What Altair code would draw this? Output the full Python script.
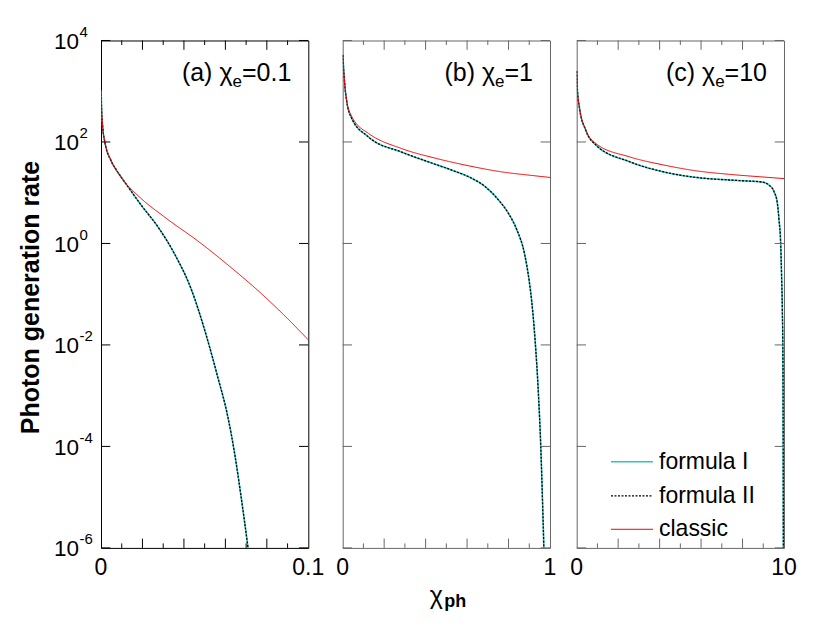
import altair as alt
import pandas as pd

FONT = "Liberation Sans"

series_names = ["formula I", "formula II", "classic"]
series_colors = ["#2EC4C4", "#000000", "#EE0000"]

panel_heads = ["(a) χ", "(b) χ", "(c) χ"]
panel_sub = "e"
panel_tails = ["=0.1", "=1", "=10"]
x_max = [0.1, 1, 10]
x_label_vals = [[0, 0.1], [0, 1], [0, 10]]
x_label_text = [["0", "0.1"], ["0", "1"], ["0", "10"]]
x_major = [[0.02, 0.04, 0.06, 0.08], [0.2, 0.4, 0.6, 0.8], [2, 4, 6, 8]]
x_minor = [[0.01, 0.03, 0.05, 0.07, 0.09], [0.1, 0.3, 0.5, 0.7, 0.9], [1, 3, 5, 7, 9]]

y_tick_vals = [1e4, 1e2, 1e0, 1e-2, 1e-4, 1e-6]
y_tick_base = ["10", "10", "10", "10", "10", "10"]
y_tick_exp = ["4", "2", "0", "-2", "-4", "-6"]

y_title = "Photon generation rate"
x_title_main = "χ"
x_title_sub = "ph"

# ---- panel (a): chi_e = 0.1 ----
a_classic_x = [0.00005, 0.0003, 0.0008, 0.0019, 0.0048, 0.0097, 0.0190, 0.0300, 0.0483, 0.0620,
               0.0757, 0.0880, 0.100]
a_classic_y = [1.05e3, 4.3e2, 2.0e2, 1.0e2, 4.4e1, 2.0e1, 7.94, 3.47, 1.0, 3.55e-1,
               1.18e-1, 3.98e-2, 1.26e-2]
a_formula_x = [0.00005, 0.0003, 0.0008, 0.0019, 0.0048, 0.0072, 0.0097, 0.0130, 0.0193, 0.0274, 0.0354,
               0.0435, 0.0507, 0.0560, 0.0612, 0.0645, 0.0676, 0.0709, 0.0725]
a_formula_y = [1.05e3, 4.3e2, 2.0e2, 9.8e1, 4.3e1, 2.9e1, 2.04e1, 1.32e1, 5.75, 2.14, 6.3e-1,
               1.26e-1, 1.58e-2, 2.6e-3, 3.8e-4, 7.1e-5, 1.0e-5, 1.0e-6, 2.8e-7]

# ---- panel (b): chi_e = 1 ----
b_classic_x = [0.001, 0.003, 0.011, 0.019, 0.043, 0.059, 0.124, 0.285, 0.446, 0.607, 0.768, 0.912, 1.0]
b_classic_y = [5.2e3, 3.5e3, 1.23e3, 6.6e2, 3.2e2, 2.5e2, 1.48e2, 7.4e1, 4.8e1, 3.4e1, 2.57e1, 2.19e1, 2.0e1]
b_formula_x = [0.001, 0.003, 0.011, 0.019, 0.043, 0.124, 0.285, 0.429, 0.526, 0.622, 0.686, 0.751,
               0.800, 0.840, 0.878, 0.900, 0.912, 0.928, 0.944, 0.955, 0.963, 0.970, 0.974]
b_formula_y = [5.2e3, 3.5e3, 1.2e3, 6.5e2, 2.95e2, 1.26e2, 6.3e1, 3.85e1, 2.79e1, 1.93e1, 1.33e1, 7.24,
               3.89, 1.86, 6.03e-1, 1.78e-1, 7.08e-2, 1.26e-2, 1.12e-3, 1.12e-4, 1.12e-5, 1.12e-6, 2.5e-7]

# ---- panel (c): chi_e = 10 ----
c_classic_x = [0.005, 0.034, 0.13, 0.45, 0.93, 2.54, 4.15, 5.77, 7.38, 8.99, 10.0]
c_classic_y = [2.5e3, 1.05e3, 4.9e2, 1.7e2, 9.3e1, 5.1e1, 3.55e1, 2.7e1, 2.3e1, 2.04e1, 1.9e1]
c_formula_x = [0.005, 0.034, 0.13, 0.45, 0.93, 2.54, 4.15, 5.77, 7.38, 8.0, 8.95, 9.28, 9.52,
               9.68, 9.76, 9.84, 9.885, 9.92, 9.95, 9.97, 9.975]
c_formula_y = [2.5e3, 1.05e3, 4.8e2, 1.65e2, 8.7e1, 4.1e1, 2.6e1, 2.0e1, 1.78e1, 1.72e1, 1.62e1, 1.41e1, 1.05e1,
               6.2, 2.9, 1.0, 2.2e-1, 4.9e-2, 5.1e-3, 1.0e-6, 1.0e-7]

panel_data = [
    (a_formula_x, a_formula_y, a_formula_x, a_formula_y, a_classic_x, a_classic_y),
    (b_formula_x, b_formula_y, b_formula_x, b_formula_y, b_classic_x, b_classic_y),
    (c_formula_x, c_formula_y, c_formula_x, c_formula_y, c_classic_x, c_classic_y),
]

W = 207.3
H = 507.4
SP_AB = 33.7
SP_BC = 26.0

ARIAL_W = {"=": 0.584, "0": 0.556, "1": 0.556, ".": 0.278, "e": 0.556}


def text_width(s, size):
    return sum(ARIAL_W.get(ch, 0.556) for ch in s) * size


def build_df(i):
    fx1, fy1, fx2, fy2, cx, cy = panel_data[i]
    rows = []
    for name, xs, ys in ((series_names[0], fx1, fy1), (series_names[1], fx2, fy2), (series_names[2], cx, cy)):
        for xv, yv in zip(xs, ys):
            rows.append({"series": name, "x": xv, "y": yv})
    return pd.DataFrame(rows)


legend_x = W + SP_AB + W + SP_BC + 34.7
legend_y = 399.3

DASH_EXPR = "datum.value == 'formula II' ? [2, 1.5] : [1, 0]"
ENCODE_OPTIONS = [
    {"symbols": {"strokeDash": {"signal": DASH_EXPR}}},
    {"symbols": {"strokeDash": {"condition": {"test": "datum.value == 'formula II'", "value": [2, 1.5]},
                                "value": [1, 0]}}},
    None,
]


def panel(i, frame_color, enc):
    xs = alt.Scale(domain=[0, x_max[i]], nice=False, zero=False)
    ys = alt.Scale(type="log", domain=[1e-6, 1e4], nice=False)
    X = alt.X("x:Q", scale=xs, axis=None)
    Y = alt.Y("y:Q", scale=ys, axis=None)

    leg_kw = dict(
        orient="none", legendX=legend_x, legendY=legend_y, title=None,
        labelFont=FONT, labelFontSize=23, labelColor="black",
        symbolType="stroke", symbolSize=1764, symbolStrokeWidth=1.5,
        labelOffset=5, rowPadding=-13.5, padding=0,
    )
    if enc is not None:
        leg_kw["encode"] = enc
    leg = alt.Legend(**leg_kw)
    lines = alt.Chart(build_df(i)).mark_line(clip=True, interpolate="monotone").encode(
        x=X, y=Y,
        color=alt.Color("series:N", scale=alt.Scale(domain=series_names, range=series_colors), legend=leg),
        strokeDash=alt.StrokeDash("series:N",
                                  scale=alt.Scale(domain=series_names, range=[[1, 0], [2, 1.5], [1, 0]]),
                                  legend=None),
        strokeWidth=alt.StrokeWidth("series:N",
                                    scale=alt.Scale(domain=series_names, range=[1.6, 1.0, 1.5]),
                                    legend=None),
    )

    ytick_df = pd.DataFrame({"y": y_tick_vals, "b": y_tick_base, "e": y_tick_exp})
    ytl = alt.Chart(ytick_df).mark_rule(color=frame_color, strokeWidth=1).encode(
        y=Y, x=alt.value(0), x2=alt.value(9.3))
    ytr = alt.Chart(ytick_df).mark_rule(color=frame_color, strokeWidth=1).encode(
        y=Y, x=alt.value(W - 9.3), x2=alt.value(W))

    maj_df = pd.DataFrame({"x": x_major[i]})
    min_df = pd.DataFrame({"x": x_minor[i]})
    xt = []
    for d, ln in ((maj_df, 9.3), (min_df, 4.5)):
        xt.append(alt.Chart(d).mark_rule(color=frame_color, strokeWidth=1).encode(
            x=X, y=alt.value(H - ln), y2=alt.value(H)))
        xt.append(alt.Chart(d).mark_rule(color=frame_color, strokeWidth=1).encode(
            x=X, y=alt.value(0), y2=alt.value(ln)))

    xl_df = pd.DataFrame({"x": x_label_vals[i], "t": x_label_text[i]})
    xlab = alt.Chart(xl_df).mark_text(font=FONT, fontSize=23, align="center", baseline="alphabetic",
                                      color="black").encode(x=X, y=alt.value(H + 27), text="t:N")

    # panel label (x) chi_e=...
    R = W - 17
    tail_w = text_width(panel_tails[i], 25)
    sub_w = text_width(panel_sub, 17)
    lab_df = pd.DataFrame({"h": [panel_heads[i]], "s": [panel_sub], "t": [panel_tails[i]]})
    lab_tail = alt.Chart(lab_df).mark_text(font=FONT, fontSize=25, align="right", baseline="alphabetic",
                                           color="black").encode(
        x=alt.value(R), y=alt.value(41), text="t:N")
    lab_sub = alt.Chart(lab_df).mark_text(font=FONT, fontSize=17, align="right", baseline="alphabetic",
                                          color="black").encode(
        x=alt.value(R - tail_w), y=alt.value(47), text="s:N")
    lab_head = alt.Chart(lab_df).mark_text(font=FONT, fontSize=25, align="right", baseline="alphabetic",
                                           color="black").encode(
        x=alt.value(R - tail_w - sub_w), y=alt.value(41), text="h:N")

    layers = [lines, ytl, ytr] + xt + [xlab, lab_head, lab_sub, lab_tail]

    if i == 0:
        ylab_b = alt.Chart(ytick_df).mark_text(font=FONT, fontSize=22.5, align="left", baseline="alphabetic",
                                               dy=8.5, color="black").encode(
            y=Y, x=alt.value(-47), text="b:N")
        ylab_e = alt.Chart(ytick_df).mark_text(font=FONT, fontSize=15, align="left", baseline="alphabetic",
                                               dy=-3.5, color="black").encode(
            y=Y, x=alt.value(-21.5), text="e:N")
        yt_df = pd.DataFrame({"t": [y_title]})
        ytitle = alt.Chart(yt_df).mark_text(font=FONT, fontSize=25, fontWeight="bold", angle=270,
                                            align="center", baseline="middle", color="black").encode(
            x=alt.value(-70), y=alt.value(257), text="t:N")
        layers += [ylab_b, ylab_e, ytitle]

    if i == 1:
        xt_df = pd.DataFrame({"m": [x_title_main], "s": [x_title_sub]})
        xt_main = alt.Chart(xt_df).mark_text(font=FONT, fontSize=25, align="left", baseline="alphabetic",
                                             color="black").encode(
            x=alt.value(87), y=alt.value(H + 56), text="m:N")
        xt_sub = alt.Chart(xt_df).mark_text(font=FONT, fontSize=18, fontWeight="bold", align="left",
                                            baseline="alphabetic", color="black").encode(
            x=alt.value(101.5), y=alt.value(H + 59.5), text="s:N")
        layers += [xt_main, xt_sub]

    return alt.layer(*layers).properties(
        width=W, height=H,
        view=alt.ViewBackground(stroke=frame_color, strokeWidth=1, fill="white"),
    )


def build(enc):
    pa = panel(0, "#000000", enc)
    pb = panel(1, "#666666", enc)
    pc = panel(2, "#666666", enc)
    inner = alt.hconcat(pb, pc, spacing=SP_BC, bounds="flush").resolve_scale(x="independent")
    return alt.hconcat(pa, inner, spacing=SP_AB, bounds="flush").resolve_scale(x="independent").properties(
        padding={"left": 10, "top": 16.5, "right": 5, "bottom": 5},
        background="white",
    )


chart = None
for enc in ENCODE_OPTIONS:
    try:
        candidate = build(enc)
        candidate.to_dict()
        chart = candidate
        break
    except Exception:
        continue

chart.save("out.html", embed_options={"renderer": "svg", "actions": False})
